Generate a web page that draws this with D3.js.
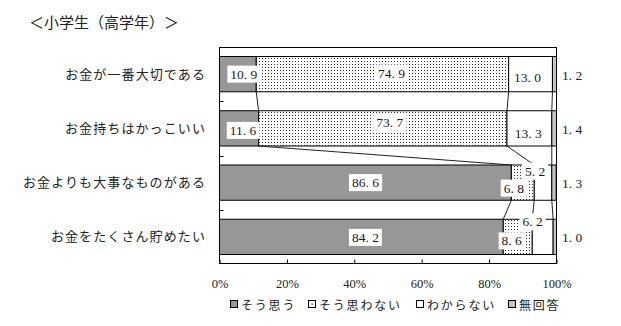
<!DOCTYPE html>
<html>
<head>
<meta charset="utf-8">
<script src="https://cdn.jsdelivr.net/npm/d3@7"></script>
<style>
  html, body { margin: 0; padding: 0; background: #fff; }
  svg { display: block; }
  .jp { font-family: "Noto Sans CJK JP", sans-serif; }
  .num { font-family: "Liberation Serif", "DejaVu Serif", serif; }
</style>
</head>
<body>
<svg id="chart" width="621" height="326"></svg>
<script>
// Survey answers, percent per statement
const categories = [
  "お金が一番大切である",
  "お金持ちはかっこいい",
  "お金よりも大事なものがある",
  "お金をたくさん貯めたい"
];
const seriesNames = ["そう思う", "そう思わない", "わからない", "無回答"];
const agree    = [10.9, 11.6, 86.6, 84.2];
const disagree = [74.9, 73.7, 6.8, 8.6];
const unsure   = [13.0, 13.3, 5.2, 6.2];
const noAnswer = [1.2, 1.4, 1.3, 1.0];
const tickValues = [0, 20, 40, 60, 80, 100];
const titleText = "＜小学生（高学年）＞";

// Hand-placed label nudges [dx, dy] per row and series (first three series)
const labelNudge = [
  [[6, 0], [9, -1], [-3, 3]],
  [[4, 2], [7, -6], [-1, 5]],
  [[0, 0], [-9, 5.5], [-8, -11.5]],
  [[4, 0.5], [-6, 4], [-10, -15]]
];

const series = [agree, disagree, unsure, noAnswer];
const fills = ["#979797", "url(#dots)", "#ffffff", "#c4c4c4"];

const svg = d3.select("#chart");
const defs = svg.append("defs");
const pat = defs.append("pattern").attr("id", "dots")
  .attr("width", 3).attr("height", 3).attr("patternUnits", "userSpaceOnUse");
pat.append("rect").attr("width", 3).attr("height", 3).attr("fill", "#fff");
pat.append("rect").attr("x", 1).attr("y", 1).attr("width", 1).attr("height", 1).attr("fill", "#333");

const x = d3.scaleLinear().domain([0, 100]).range([219.5, 556.5]);
const y = d3.scaleBand().domain(categories).range([47, 264])
  .paddingInner(0.35).paddingOuter(0.175);
const step = y.step(), bw = y.bandwidth();

// Title
svg.append("text").attr("class", "jp")
  .attr("x", 29).attr("y", 28)
  .attr("font-size", 15).attr("fill", "#222")
  .text(titleText);

// Stacked rows
const rows = categories.map((c, i) => {
  let acc = 0;
  const segs = series.map((s, k) => {
    const seg = { k, v: s[i], x0: acc, x1: acc + s[i] };
    acc += s[i];
    return seg;
  });
  return { c, i, segs };
});

const g = svg.append("g");
rows.forEach(r => {
  g.selectAll(null).data(r.segs).enter().append("rect")
    .attr("x", d => x(d.x0))
    .attr("y", y(r.c))
    .attr("width", d => x(d.x1) - x(d.x0))
    .attr("height", bw)
    .attr("fill", d => fills[d.k])
    .attr("stroke", "#000")
    .attr("stroke-width", 1);
});

// Series lines joining segment boundaries of neighbouring rows
const linesG = svg.append("g").attr("stroke", "#222").attr("stroke-width", 1);
for (let i = 0; i < rows.length - 1; i++) {
  for (let k = 0; k < 3; k++) {
    linesG.append("line")
      .attr("x1", x(rows[i].segs[k].x1))
      .attr("y1", y(rows[i].c) + bw)
      .attr("x2", x(rows[i + 1].segs[k].x1))
      .attr("y2", y(rows[i + 1].c));
  }
}

// Plot frame
svg.append("rect")
  .attr("x", x(0)).attr("y", 47.5)
  .attr("width", x(100) - x(0)).attr("height", 216)
  .attr("fill", "none").attr("stroke", "#000").attr("stroke-width", 1);

// Category boundary ticks on the left edge
for (let i = 0; i < categories.length - 1; i++) {
  const yy = Math.round(y(categories[i]) + bw + (step - bw) / 2) + 0.5;
  svg.append("line").attr("x1", x(0)).attr("x2", x(0) + 4)
    .attr("y1", yy).attr("y2", yy).attr("stroke", "#000");
}

// Percent axis
const axis = svg.append("g").attr("transform", "translate(0,263.5)")
  .call(d3.axisBottom(x).tickValues(tickValues)
    .tickFormat(d => d + "%").tickSizeInner(-4).tickSizeOuter(0).tickPadding(16));
axis.select(".domain").remove();
axis.selectAll(".tick line").attr("stroke", "#000");
axis.selectAll(".tick text").attr("class", "num")
  .attr("font-size", 12.5).attr("fill", "#222");

// Category labels
svg.append("g").selectAll("text").data(categories).enter().append("text")
  .attr("class", "jp")
  .attr("x", 206)
  .attr("y", d => y(d) + bw / 2 + 1)
  .attr("text-anchor", "end").attr("dominant-baseline", "middle")
  .attr("font-size", 13).attr("letter-spacing", 1.1).attr("fill", "#222")
  .text(d => d);

// Value labels
const fmt = v => d3.format(".1f")(v).replace(".", ". ");
const labG = svg.append("g");
rows.forEach((r, i) => {
  r.segs.forEach(s => {
    let cx, cy;
    if (s.k === 3) {
      cx = 572; cy = y(r.c) + bw / 2 + 1;
    } else {
      const n = labelNudge[i][s.k];
      cx = x((s.x0 + s.x1) / 2) + n[0];
      cy = y(r.c) + bw / 2 + n[1];
    }
    const lg = labG.append("g");
    const t = lg.append("text").attr("class", "num")
      .attr("x", cx).attr("y", cy)
      .attr("text-anchor", "middle").attr("dominant-baseline", "central")
      .attr("font-size", 13.5).attr("fill", "#1a1a1a")
      .text(fmt(s.v));
    if (s.k !== 3) {
      const b = t.node().getBBox();
      lg.insert("rect", "text")
        .attr("x", b.x - 3).attr("y", b.y - 1)
        .attr("width", b.width + 6).attr("height", b.height + 2)
        .attr("fill", "#fff");
    }
  });
});

// Legend
const legendX = [230, 308, 416, 508];
const leg = svg.append("g");
seriesNames.forEach((name, k) => {
  const lx = legendX[k];
  leg.append("rect").attr("x", lx + 0.5).attr("y", 300.5).attr("width", 7).attr("height", 7)
    .attr("fill", k === 1 ? "#fff" : fills[k]).attr("stroke", "#000");
  if (k === 1) {
    leg.append("rect").attr("x", lx + 3.5).attr("y", 303.5).attr("width", 1.2).attr("height", 1.2).attr("fill", "#000");
  }
  leg.append("text").attr("class", "jp")
    .attr("x", lx + 11).attr("y", 304.5)
    .attr("dominant-baseline", "central")
    .attr("font-size", 12).attr("letter-spacing", 1.8).attr("fill", "#222")
    .text(name);
});
</script>
</body>
</html>
